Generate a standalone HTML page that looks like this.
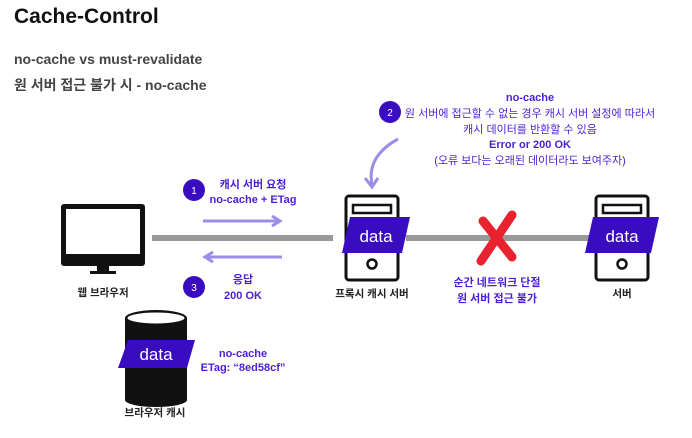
<!DOCTYPE html>
<html><head><meta charset="utf-8"><style>
body{margin:0;background:#fff;}
svg{display:block;font-family:"Liberation Sans","Noto Sans CJK KR",sans-serif;}
.p{fill:#4b1fd6;font-weight:bold;font-size:11px;text-anchor:middle;}
.lb{fill:#222;font-weight:bold;font-size:10.5px;text-anchor:middle;}
.d{fill:#fff;font-size:17px;text-anchor:middle;}
</style></head><body>
<svg width="692" height="438" viewBox="0 0 692 438">
<text x="14" y="23" font-size="21" font-weight="bold" fill="#111">Cache-Control</text>
<text x="14" y="64" font-size="14" font-weight="bold" fill="#444">no-cache vs must-revalidate</text>
<text x="14" y="90" font-size="14" font-weight="bold" fill="#444">원 서버 접근 불가 시 - no-cache</text>

<rect x="152" y="235" width="181" height="6" fill="#999"/>
<rect x="406" y="235" width="184" height="6" fill="#999"/>

<rect x="61" y="204" width="84" height="62" rx="3" fill="#111"/>
<rect x="66" y="209" width="74" height="45" fill="#fff"/>
<rect x="97" y="266" width="12" height="6" fill="#111"/>
<rect x="90" y="271" width="26" height="3" fill="#111"/>
<text class="lb" x="103" y="296">웹 브라우저</text>

<g stroke="#9b8ee6" stroke-width="3" fill="none">
<line x1="203" y1="221" x2="278" y2="221"/><polyline points="272,216 280,221 272,226"/>
<line x1="207" y1="257" x2="282" y2="257"/><polyline points="213,252 205,257 213,262"/>
</g>
<circle cx="194" cy="190" r="11" fill="#3a0cc0"/><text x="194" y="194" fill="#fff" font-size="10" text-anchor="middle">1</text>
<text class="p" x="253" y="188">캐시 서버 요청</text>
<text class="p" x="253" y="203">no-cache + ETag</text>
<circle cx="194" cy="287" r="11" fill="#3a0cc0"/><text x="194" y="291" fill="#fff" font-size="10" text-anchor="middle">3</text>
<text class="p" x="243" y="283">응답</text>
<text class="p" x="243" y="299">200 OK</text>

<g>
<rect x="346" y="196" width="52" height="84" rx="3" fill="#fff" stroke="#111" stroke-width="3"/>
<rect x="353" y="205" width="38" height="8" fill="#fff" stroke="#111" stroke-width="2.5"/>
<circle cx="372" cy="264" r="4.5" fill="none" stroke="#111" stroke-width="2.5"/>
<polygon points="350,217 410,217 402,253 342,253" fill="#3a0cc0"/>
<text class="d" x="376" y="242">data</text>
</g>
<text class="lb" x="372" y="297">프록시 캐시 서버</text>

<g>
<rect x="596" y="196" width="52" height="84" rx="3" fill="#fff" stroke="#111" stroke-width="3"/>
<rect x="603" y="205" width="38" height="8" fill="#fff" stroke="#111" stroke-width="2.5"/>
<circle cx="622" cy="264" r="4.5" fill="none" stroke="#111" stroke-width="2.5"/>
<polygon points="593,217 659,217 651,253 585,253" fill="#3a0cc0"/>
<text class="d" x="622" y="242">data</text>
</g>
<text class="lb" x="622" y="297">서버</text>

<g stroke="#e8222e" stroke-width="9" stroke-linecap="round">
<line x1="483" y1="221" x2="512" y2="257"/><line x1="512" y1="215" x2="481" y2="261"/>
</g>
<text class="p" x="497" y="286">순간 네트워크 단절</text>
<text class="p" x="497" y="302">원 서버 접근 불가</text>

<circle cx="390" cy="112" r="11" fill="#3a0cc0"/><text x="390" y="116" fill="#fff" font-size="10" text-anchor="middle">2</text>
<text class="p" x="530" y="101">no-cache</text>
<text class="p" x="530" y="117" style="font-weight:normal">원 서버에 접근할 수 없는 경우 캐시 서버 설정에 따라서</text>
<text class="p" x="530" y="133" style="font-weight:normal">캐시 데이터를 반환할 수 있음</text>
<text class="p" x="530" y="148">Error or 200 OK</text>
<text class="p" x="530" y="164" style="font-weight:normal">(오류 보다는 오래된 데이터라도 보여주자)</text>
<path d="M398,139 C378,150 368,165 372,185" fill="none" stroke="#9b8ee6" stroke-width="3"/>
<polyline points="365,178 372,187 378,178" fill="none" stroke="#9b8ee6" stroke-width="3"/>

<rect x="125" y="318" width="62" height="82" fill="#111"/>
<ellipse cx="156" cy="400" rx="31" ry="7" fill="#111"/>
<ellipse cx="156" cy="318" rx="31" ry="8" fill="#111"/>
<ellipse cx="156" cy="318" rx="29" ry="6" fill="#fff" stroke="#111" stroke-width="1"/>
<polygon points="128,340 195,340 187,368 118,368" fill="#3a0cc0"/>
<text class="d" x="156" y="360">data</text>
<text class="p" x="243" y="357">no-cache</text>
<text class="p" x="243" y="371">ETag: “8ed58cf”</text>
<text class="lb" x="155" y="416">브라우저 캐시</text>
</svg>
</body></html>
